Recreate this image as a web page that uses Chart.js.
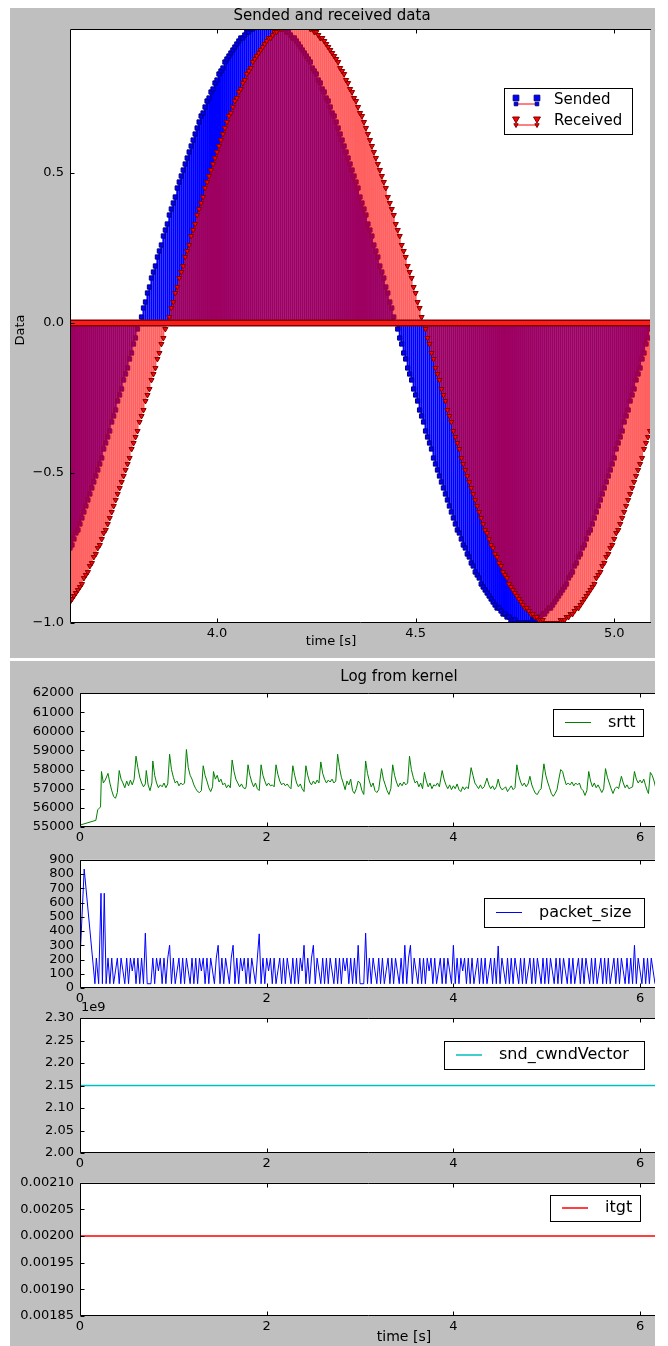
<!DOCTYPE html>
<html>
<head>
<meta charset="utf-8">
<script src="https://cdn.jsdelivr.net/npm/chart.js@4.4.1/dist/chart.umd.min.js"></script>
<style>
  html, body { margin: 0; padding: 0; background: #fff; overflow: hidden; }
  body { width: 668px; height: 1346px; position: relative; }
  .fig { position: absolute; background: #bfbfbf; }
  canvas { position: absolute; }
</style>
</head>
<body>
<div class="fig" style="left:10px;top:8px;width:645px;height:650px"></div>
<div class="fig" style="left:10px;top:661px;width:645px;height:685px"></div>
<canvas id="dataChart" width="645" height="652" style="left:10px;top:6px"></canvas>
<canvas id="srttChart" width="645" height="188" style="left:10px;top:661px"></canvas>
<canvas id="packetChart" width="645" height="164" style="left:10px;top:846px"></canvas>
<canvas id="cwndChart" width="645" height="179" style="left:10px;top:996px"></canvas>
<canvas id="itgtChart" width="645" height="177" style="left:10px;top:1169px"></canvas>
<script>
Chart.defaults.font.family = "'DejaVu Sans', sans-serif";
Chart.defaults.font.size = 13;
Chart.defaults.color = '#000';

// ---- top panel: sended / received stems, one sample every 5 ms ----
const sampleStart = 3.63;
const sampleStep = 0.005;
const sended = [
  -0.75,-0.74,-0.72,-0.70,-0.69,-0.67,-0.65,-0.63,-0.61,-0.59,-0.57,-0.55,-0.53,-0.51,-0.49,-0.47,-0.45,-0.42,-0.40,-0.38,
  -0.36,-0.33,-0.31,-0.29,-0.26,-0.24,-0.22,-0.19,-0.17,-0.15,-0.12,-0.10,-0.07,-0.05,-0.02,0.00,0.02,0.05,0.07,0.10,
  0.12,0.15,0.17,0.19,0.22,0.24,0.26,0.29,0.31,0.33,0.36,0.38,0.40,0.42,0.45,0.47,0.49,0.51,0.53,0.55,
  0.57,0.59,0.61,0.63,0.65,0.67,0.69,0.70,0.72,0.74,0.75,0.77,0.78,0.80,0.81,0.83,0.84,0.85,0.87,0.88,
  0.89,0.90,0.91,0.92,0.93,0.94,0.95,0.95,0.96,0.97,0.97,0.98,0.98,0.99,0.99,0.99,1.00,1.00,1.00,1.00,
  1.00,1.00,1.00,1.00,0.99,0.99,0.99,0.98,0.98,0.97,0.97,0.96,0.95,0.95,0.94,0.93,0.92,0.91,0.90,0.89,
  0.88,0.87,0.85,0.84,0.83,0.81,0.80,0.78,0.77,0.75,0.74,0.72,0.70,0.69,0.67,0.65,0.63,0.61,0.59,0.57,
  0.55,0.53,0.51,0.49,0.47,0.45,0.42,0.40,0.38,0.36,0.33,0.31,0.29,0.26,0.24,0.22,0.19,0.17,0.15,0.12,
  0.10,0.07,0.05,0.02,0.00,-0.02,-0.05,-0.07,-0.10,-0.12,-0.15,-0.17,-0.19,-0.22,-0.24,-0.26,-0.29,-0.31,-0.33,-0.36,
  -0.38,-0.40,-0.42,-0.45,-0.47,-0.49,-0.51,-0.53,-0.55,-0.57,-0.59,-0.61,-0.63,-0.65,-0.67,-0.69,-0.70,-0.72,-0.74,-0.75,
  -0.77,-0.78,-0.80,-0.81,-0.83,-0.84,-0.85,-0.87,-0.88,-0.89,-0.90,-0.91,-0.92,-0.93,-0.94,-0.95,-0.95,-0.96,-0.97,-0.97,
  -0.98,-0.98,-0.99,-0.99,-0.99,-1.00,-1.00,-1.00,-1.00,-1.00,-1.00,-1.00,-1.00,-0.99,-0.99,-0.99,-0.98,-0.98,-0.97,-0.97,
  -0.96,-0.95,-0.95,-0.94,-0.93,-0.92,-0.91,-0.90,-0.89,-0.88,-0.87,-0.85,-0.84,-0.83,-0.81,-0.80,-0.78,-0.77,-0.75,-0.74,
  -0.72,-0.70,-0.69,-0.67,-0.65,-0.63,-0.61,-0.59,-0.57,-0.55,-0.53,-0.51,-0.49,-0.47,-0.45,-0.42,-0.40,-0.38,-0.36,-0.33,
  -0.31,-0.29,-0.26,-0.24,-0.22,-0.19,-0.17,-0.15,-0.12,-0.10,-0.07,-0.05,-0.02
];
const received = [
  -0.93,-0.92,-0.91,-0.90,-0.89,-0.88,-0.87,-0.85,-0.84,-0.83,-0.81,-0.80,-0.78,-0.77,
  -0.75,-0.74,-0.72,-0.70,-0.69,-0.67,-0.65,-0.63,-0.61,-0.59,-0.57,-0.55,-0.53,-0.51,-0.49,-0.47,-0.45,-0.42,-0.40,-0.38,
  -0.36,-0.33,-0.31,-0.29,-0.26,-0.24,-0.22,-0.19,-0.17,-0.15,-0.12,-0.10,-0.07,-0.05,-0.02,0.00,0.02,0.05,0.07,0.10,
  0.12,0.15,0.17,0.19,0.22,0.24,0.26,0.29,0.31,0.33,0.36,0.38,0.40,0.42,0.45,0.47,0.49,0.51,0.53,0.55,
  0.57,0.59,0.61,0.63,0.65,0.67,0.69,0.70,0.72,0.74,0.75,0.77,0.78,0.80,0.81,0.83,0.84,0.85,0.87,0.88,
  0.89,0.90,0.91,0.92,0.93,0.94,0.95,0.95,0.96,0.97,0.97,0.98,0.98,0.99,0.99,0.99,1.00,1.00,1.00,1.00,
  1.00,1.00,1.00,1.00,0.99,0.99,0.99,0.98,0.98,0.97,0.97,0.96,0.95,0.95,0.94,0.93,0.92,0.91,0.90,0.89,
  0.88,0.87,0.85,0.84,0.83,0.81,0.80,0.78,0.77,0.75,0.74,0.72,0.70,0.69,0.67,0.65,0.63,0.61,0.59,0.57,
  0.55,0.53,0.51,0.49,0.47,0.45,0.42,0.40,0.38,0.36,0.33,0.31,0.29,0.26,0.24,0.22,0.19,0.17,0.15,0.12,
  0.10,0.07,0.05,0.02,0.00,-0.02,-0.05,-0.07,-0.10,-0.12,-0.15,-0.17,-0.19,-0.22,-0.24,-0.26,-0.29,-0.31,-0.33,-0.36,
  -0.38,-0.40,-0.42,-0.45,-0.47,-0.49,-0.51,-0.53,-0.55,-0.57,-0.59,-0.61,-0.63,-0.65,-0.67,-0.69,-0.70,-0.72,-0.74,-0.75,
  -0.77,-0.78,-0.80,-0.81,-0.83,-0.84,-0.85,-0.87,-0.88,-0.89,-0.90,-0.91,-0.92,-0.93,-0.94,-0.95,-0.95,-0.96,-0.97,-0.97,
  -0.98,-0.98,-0.99,-0.99,-0.99,-1.00,-1.00,-1.00,-1.00,-1.00,-1.00,-1.00,-1.00,-0.99,-0.99,-0.99,-0.98,-0.98,-0.97,-0.97,
  -0.96,-0.95,-0.95,-0.94,-0.93,-0.92,-0.91,-0.90,-0.89,-0.88,-0.87,-0.85,-0.84,-0.83,-0.81,-0.80,-0.78,-0.77,-0.75,-0.74,
  -0.72,-0.70,-0.69,-0.67,-0.65,-0.63,-0.61,-0.59,-0.57,-0.55,-0.53,-0.51,-0.49,-0.47,-0.45,-0.42,-0.40,-0.38,-0.36
];
const dataXMin = 3.63, dataXMax = 5.09;
const dataYMin = -1.0, dataYMax = 0.98;
const dataXTicks = [4.0, 4.5, 5.0];
const dataYTicks = [-1.0, -0.5, 0.0, 0.5];

// ---- bottom panels: log from kernel ----
// srtt as [time, value]
const srtt = [
  [0.00,55100],[0.17,55350],[0.19,55900],[0.22,56050],[0.23,57900],[0.25,57300],[0.27,57450],[0.30,57800],
  [0.32,57300],[0.34,56900],[0.36,56600],[0.38,56500],[0.40,56800],[0.42,57950],[0.44,57500],[0.46,57300],
  [0.48,57050],[0.50,57400],[0.52,57150],[0.54,57450],[0.56,57200],[0.58,57500],[0.60,58700],[0.62,58100],
  [0.64,57600],[0.66,57300],[0.68,57100],[0.70,57250],[0.71,57950],[0.73,57200],[0.75,56900],[0.77,57300],
  [0.78,58450],[0.80,57700],[0.82,57300],[0.84,57050],[0.86,57200],[0.88,57100],[0.90,57300],[0.92,57050],
  [0.94,57250],[0.96,58800],[0.98,58000],[1.00,57600],[1.02,57300],[1.04,57400],[1.06,57150],[1.08,57300],
  [1.10,57200],[1.12,57300],[1.14,59050],[1.16,58100],[1.18,57700],[1.20,57500],[1.22,57200],[1.24,57000],
  [1.26,56850],[1.28,56800],[1.30,56900],[1.32,58200],[1.34,57700],[1.36,57400],[1.38,57050],[1.40,56850],
  [1.42,57100],[1.43,57900],[1.45,57500],[1.47,57700],[1.49,57350],[1.51,57500],[1.53,57200],[1.55,57300],
  [1.57,57050],[1.59,57200],[1.61,57050],[1.63,58500],[1.65,57900],[1.67,57500],[1.69,57300],[1.71,57100],
  [1.73,57250],[1.75,57050],[1.77,57000],[1.78,57100],[1.80,58250],[1.82,57700],[1.84,57350],[1.86,57100],
  [1.88,57300],[1.90,57000],[1.92,56900],[1.94,58250],[1.96,57700],[1.98,57400],[2.00,57150],[2.02,57300],
  [2.04,57150],[2.06,57200],[2.08,57100],[2.10,58250],[2.12,57750],[2.14,57400],[2.16,57200],[2.18,57300],
  [2.20,57150],[2.22,57250],[2.24,57100],[2.26,57000],[2.28,58200],[2.30,57700],[2.32,57300],[2.34,57100],
  [2.36,57250],[2.38,57000],[2.40,56850],[2.42,58200],[2.44,57700],[2.46,57350],[2.48,57200],[2.50,57400],
  [2.52,57250],[2.54,57450],[2.56,57300],[2.58,58400],[2.60,57800],[2.62,57500],[2.64,57300],[2.66,57450],
  [2.68,57350],[2.70,57500],[2.72,57300],[2.74,57400],[2.76,58800],[2.78,58100],[2.80,57600],[2.82,57300],
  [2.84,56950],[2.86,57400],[2.88,57200],[2.90,57500],[2.92,56900],[2.94,56750],[2.96,57000],[2.98,57400],
  [3.00,57300],[3.02,56900],[3.04,56700],[3.06,58450],[3.08,57800],[3.10,57400],[3.12,57100],[3.14,57300],
  [3.16,56900],[3.18,56800],[3.20,56950],[3.23,58050],[3.25,57500],[3.27,57200],[3.29,56900],[3.31,56700],
  [3.33,57000],[3.35,58250],[3.37,57700],[3.39,57350],[3.41,57100],[3.43,57300],[3.45,57150],[3.47,57350],
  [3.49,57200],[3.51,57300],[3.53,58700],[3.55,58000],[3.57,57600],[3.59,57300],[3.61,57400],[3.63,57100],
  [3.65,57300],[3.67,57000],[3.69,57850],[3.71,57400],[3.73,57100],[3.75,57300],[3.77,57000],[3.79,57200],
  [3.81,57150],[3.83,57300],[3.85,57100],[3.88,57950],[3.90,57500],[3.92,57200],[3.94,57000],[3.96,57200],
  [3.98,56950],[4.00,57150],[4.02,57000],[4.04,57250],[4.06,56950],[4.08,56850],[4.10,57100],[4.12,56950],
  [4.14,57100],[4.16,57000],[4.19,58100],[4.21,57700],[4.23,57300],[4.25,57150],[4.27,57000],[4.29,57200],
  [4.31,57000],[4.33,57100],[4.36,57550],[4.38,57200],[4.40,57000],[4.42,57150],[4.44,56950],[4.46,57100],
  [4.48,57500],[4.50,57100],[4.52,56950],[4.54,57000],[4.56,57100],[4.58,56850],[4.60,57000],[4.62,57150],
  [4.64,56950],[4.66,57050],[4.68,58250],[4.70,57700],[4.72,57350],[4.74,57150],[4.76,57300],[4.78,57100],
  [4.80,57250],[4.82,57650],[4.84,57200],[4.86,56950],[4.88,56750],[4.90,56700],[4.92,56900],[4.94,57000],
  [4.97,58300],[4.99,57700],[5.01,57350],[5.03,57050],[5.05,56750],[5.07,56600],[5.09,56750],[5.11,56950],
  [5.13,57500],[5.15,58000],[5.17,57900],[5.19,57500],[5.21,57200],[5.23,57300],[5.25,57200],[5.27,57350],
  [5.29,57150],[5.31,57300],[5.33,57200],[5.35,57300],[5.37,57000],[5.39,56900],[5.41,56650],[5.43,56900],
  [5.45,57900],[5.47,57400],[5.49,57100],[5.51,57300],[5.53,57050],[5.55,57200],[5.57,57000],[5.59,56800],
  [5.61,57000],[5.63,58050],[5.65,57600],[5.67,57300],[5.69,57000],[5.71,56750],[5.73,57000],[5.75,57100],
  [5.77,57000],[5.80,57650],[5.82,57300],[5.84,57050],[5.86,57200],[5.88,57000],[5.90,57050],[5.92,57100],
  [5.94,57900],[5.96,57500],[5.98,57300],[6.00,57450],[6.02,57300],[6.04,57500],[6.06,57150],[6.08,56850],
  [6.09,56750],[6.11,57850],[6.13,57700],[6.15,57400],[6.17,57000]
];
// packet_size: first burst as [time, value], then one value every 20 ms from 0.30 s
const packetHead = [[0.00,200],[0.045,835],[0.16,30],[0.175,210],[0.20,30],[0.225,665],[0.24,30],[0.26,665],[0.28,30]];
const packetStart = 0.30;
const packetStep = 0.02;
const packetSize = [
  210,30,210,30,120,210,30,210,120,30,210,30,210,120,210,30,210,30,210,30,
  385,30,30,30,210,30,210,120,210,30,210,30,210,300,30,210,30,120,210,30,
  210,30,210,120,30,210,30,210,30,210,120,210,30,210,30,210,120,30,210,300,
  30,210,30,210,120,30,210,300,30,210,30,210,120,210,30,210,30,210,120,30,
  210,380,30,210,30,210,120,210,30,210,30,120,210,30,210,30,210,120,30,210,
  30,210,30,210,120,300,30,210,30,210,300,30,210,120,30,210,30,210,30,210,
  120,30,210,30,210,30,210,120,210,30,210,30,210,30,300,30,30,30,385,30,
  210,30,210,120,30,210,30,210,30,120,210,30,210,30,210,120,30,210,30,300,
  30,210,300,30,210,120,30,210,30,210,30,210,120,210,30,210,30,120,210,30,
  210,30,210,120,30,300,30,210,30,210,120,210,30,210,30,210,30,120,210,30,
  210,30,210,30,120,210,30,210,30,295,30,210,120,30,210,30,210,30,210,120,
  30,210,30,210,30,120,210,30,210,30,210,120,30,210,30,210,30,210,120,30,
  210,30,210,30,210,120,30,210,30,210,30,120,210,30,210,30,210,120,30,210,
  30,210,30,120,210,30,210,30,210,30,120,210,30,210,30,210,120,30,210,30,
  210,30,300,30,210,120,30,210,30,210,30,210,120,30
];
const sndCwnd = [[0.00,2.15e9],[6.20,2.15e9]];
const itgt = [[0.00,0.0020],[6.20,0.0020]];

const kernelXMax = 6.16;
const kernelXTicks = [0, 2, 4, 6];
const srttTicks = [55000, 56000, 57000, 58000, 59000, 60000, 61000, 62000];
const packetTicks = [0, 100, 200, 300, 400, 500, 600, 700, 800, 900];
const cwndTicks = [2.00e9, 2.05e9, 2.10e9, 2.15e9, 2.20e9, 2.25e9, 2.30e9];
const itgtTicks = [0.00185, 0.00190, 0.00195, 0.00200, 0.00205, 0.00210];

const toPoints = pairs => pairs.map(([x, y]) => ({x, y}));
const sendTimes = sended.map((_, i) => +(sampleStart + i * sampleStep).toFixed(3));
const packetPoints = toPoints(packetHead).concat(
  packetSize.map((v, i) => ({x: +(packetStart + i * packetStep).toFixed(2), y: v})));

// white plot area, matplotlib-ish frame with inward ticks, free texts and a boxed legend
function decor(cfg) {
  const font = s => `${s}px 'DejaVu Sans', sans-serif`;
  return {
    id: 'decor',
    beforeDraw(chart) {
      const {ctx, chartArea: a} = chart;
      ctx.save();
      ctx.fillStyle = '#fff';
      ctx.fillRect(a.left, a.top, a.right - a.left, a.bottom - a.top);
      ctx.restore();
    },
    afterDatasetsDraw(chart) {
      const {ctx, chartArea: a, scales} = chart;
      const L = Math.round(a.left) + 0.5, T = Math.round(a.top) + 0.5;
      const B = Math.round(a.bottom) - 0.5, R = a.right + 1;
      ctx.save();
      ctx.strokeStyle = '#000';
      ctx.lineWidth = 1;
      ctx.beginPath();
      ctx.moveTo(R, T); ctx.lineTo(L, T); ctx.lineTo(L, B); ctx.lineTo(R, B);
      scales.x.ticks.forEach(t => {
        const x = Math.round(scales.x.getPixelForValue(t.value)) + 0.5;
        ctx.moveTo(x, B); ctx.lineTo(x, B - 4);
        ctx.moveTo(x, T); ctx.lineTo(x, T + 4);
      });
      scales.y.ticks.forEach(t => {
        const y = Math.round(scales.y.getPixelForValue(t.value)) + 0.5;
        ctx.moveTo(L, y); ctx.lineTo(L + 4, y);
      });
      ctx.stroke();
      ctx.restore();
    },
    afterDraw(chart) {
      const {ctx, chartArea: a} = chart;
      ctx.save();
      ctx.fillStyle = '#000';
      (cfg.texts || []).forEach(t => {
        ctx.save();
        ctx.font = font(t.size);
        ctx.textAlign = t.align || 'center';
        ctx.textBaseline = 'middle';
        ctx.translate(t.x, t.y);
        if (t.rotate) ctx.rotate(t.rotate);
        ctx.fillText(t.text, 0, 0);
        ctx.restore();
      });
      const lg = cfg.legend;
      if (lg) {
        const x0 = Math.round(a.left + lg.left), y0 = Math.round(a.top + lg.top);
        ctx.fillStyle = '#fff';
        ctx.fillRect(x0, y0, lg.width, lg.height);
        ctx.strokeStyle = '#000';
        ctx.lineWidth = 1;
        ctx.strokeRect(x0 + 0.5, y0 + 0.5, lg.width, lg.height);
        lg.items.forEach((it, i) => {
          const y = y0 + lg.rows[i];
          if (it.kind === 'line') {
            ctx.strokeStyle = it.color;
            ctx.lineWidth = it.width || 1;
            ctx.beginPath();
            ctx.moveTo(x0 + 12, y); ctx.lineTo(x0 + 38, y);
            ctx.stroke();
          } else {
            const xs = [x0 + 12, x0 + 33];
            ctx.strokeStyle = '#ff0000';
            ctx.lineWidth = 1;
            ctx.beginPath();
            ctx.moveTo(xs[0], y + 4); ctx.lineTo(xs[1], y + 4);
            ctx.stroke();
            xs.forEach(x => {
              ctx.fillStyle = it.fill; ctx.strokeStyle = it.edge;
              Chart.helpers.drawPoint(ctx, {pointStyle: it.marker, radius: 4, rotation: it.rotation, borderWidth: 1}, x, y - 2);
              Chart.helpers.drawPoint(ctx, {pointStyle: it.marker, radius: 2.5, rotation: it.rotation, borderWidth: 1}, x, y + 4);
            });
          }
          ctx.fillStyle = '#000';
          ctx.font = font(lg.size);
          ctx.textAlign = 'left';
          ctx.textBaseline = 'middle';
          ctx.fillText(it.label, x0 + lg.textX, y);
        });
      }
      ctx.restore();
    }
  };
}

const fixedTicks = list => scale => { scale.ticks = list.map(v => ({value: v})); };
const noGrid = { display: false, drawTicks: false };
const zeroLine = sendTimes.map(t => ({x: t, y: 0}));

// ---- top chart ----
new Chart(document.getElementById('dataChart'), {
  type: 'bar',
  data: {
    datasets: [
      { type: 'line', label: 'baseline', data: zeroLine, borderColor: '#ff1a1a', borderWidth: 4,
        pointRadius: 0, clip: 0, order: 0 },
      { type: 'line', label: 'baseline edge', data: zeroLine, borderColor: '#7a0000', borderWidth: 7,
        pointRadius: 0, clip: 0, order: 1 },
      { type: 'line', label: 'Received', data: received.map((v, i) => ({x: sendTimes[i], y: v})),
        showLine: false, pointStyle: 'triangle', rotation: 180, pointRadius: 3,
        pointBackgroundColor: '#ff0000', pointBorderColor: '#800000', pointBorderWidth: 1,
        clip: 0, order: 2 },
      { label: 'Received stems', data: received.map((v, i) => ({x: sendTimes[i], y: v})),
        backgroundColor: 'rgba(255,0,0,0.62)', borderWidth: 0, barThickness: 2, inflateAmount: 0,
        grouped: false, clip: 0, order: 3 },
      { type: 'line', label: 'Sended', data: sended.map((v, i) => ({x: sendTimes[i], y: v})),
        showLine: false, pointStyle: 'rect', pointRadius: 3,
        pointBackgroundColor: '#0000ff', pointBorderColor: '#000080', pointBorderWidth: 1,
        clip: 0, order: 4 },
      { label: 'Sended stems', data: sended.map((v, i) => ({x: sendTimes[i], y: v})),
        backgroundColor: '#0000ff', borderWidth: 0, barThickness: 2, inflateAmount: 0,
        grouped: false, clip: 0, order: 5 }
    ]
  },
  options: {
    responsive: false,
    animation: false,
    layout: { padding: { top: 0, right: 1, left: 0, bottom: 0 } },
    plugins: {
      legend: { display: false },
      tooltip: { enabled: false },
      title: { display: true, text: 'Sended and received data', color: '#000',
               font: { size: 15, weight: 'normal' }, padding: { top: 1, bottom: 4 } }
    },
    scales: {
      x: { type: 'linear', min: dataXMin, max: dataXMax, offset: false,
           grid: noGrid, border: { display: false },
           afterBuildTicks: fixedTicks(dataXTicks),
           afterFit: s => { s.height = 35; },
           ticks: { padding: 3, autoSkip: false, maxRotation: 0, callback: v => v.toFixed(1) } },
      y: { min: dataYMin, max: dataYMax,
           grid: noGrid, border: { display: false },
           afterBuildTicks: fixedTicks(dataYTicks),
           afterFit: s => { s.width = 60; },
           ticks: { padding: 6, autoSkip: false, callback: v => v.toFixed(1).replace('-', '\u2212') } }
    }
  },
  plugins: [decor({
    texts: [
      { text: 'Data', x: 11, y: 324, size: 13, rotate: -Math.PI / 2 },
      { text: 'time [s]', x: 321, y: 636, size: 13 }
    ],
    legend: { left: 434, top: 59, width: 128, height: 46, rows: [12, 33], textX: 50, size: 15,
      items: [
        { label: 'Sended', kind: 'stem', marker: 'rect', rotation: 0, fill: '#0000ff', edge: '#000080' },
        { label: 'Received', kind: 'stem', marker: 'triangle', rotation: 180, fill: '#ff0000', edge: '#800000' }
      ] }
  })]
});

// ---- kernel log panels ----
function kernelChart(id, cfg) {
  return new Chart(document.getElementById(id), {
    type: 'line',
    data: { datasets: [{ label: cfg.label, data: cfg.points, borderColor: cfg.color,
                         borderWidth: cfg.width, pointRadius: 0, tension: 0, clip: 0 }] },
    options: {
      responsive: false,
      animation: false,
      layout: { padding: { top: cfg.padTop, right: 0, left: 0, bottom: 0 } },
      plugins: { legend: { display: false }, tooltip: { enabled: false } },
      scales: {
        x: { type: 'linear', min: 0, max: kernelXMax,
             grid: noGrid, border: { display: false },
             afterBuildTicks: fixedTicks(kernelXTicks),
             afterFit: s => { s.height = cfg.axisHeight; },
             ticks: { padding: 3, autoSkip: false, maxRotation: 0, callback: v => String(v) } },
        y: { min: cfg.ticks[0], max: cfg.ticks[cfg.ticks.length - 1],
             grid: noGrid, border: { display: false },
             afterBuildTicks: fixedTicks(cfg.ticks),
             afterFit: s => { s.width = 70; },
             ticks: { padding: 6, autoSkip: false, callback: cfg.fmt } }
      }
    },
    plugins: [decor({
      texts: cfg.texts || [],
      legend: { left: cfg.legend.left, top: cfg.legend.top, width: cfg.legend.width,
                height: cfg.legend.height, rows: [cfg.legend.height / 2], textX: 55, size: 16,
                items: [{ label: cfg.label, kind: 'line', color: cfg.color, width: cfg.width }] }
    })]
  });
}

kernelChart('srttChart', {
  label: 'srtt', points: toPoints(srtt), color: '#008000', width: 1,
  ticks: srttTicks, fmt: v => String(v), padTop: 32, axisHeight: 22,
  texts: [{ text: 'Log from kernel', x: 389, y: 16, size: 15 }],
  legend: { left: 473, top: 16, width: 90, height: 27 }
});

kernelChart('packetChart', {
  label: 'packet_size', points: packetPoints, color: '#0000ff', width: 1,
  ticks: packetTicks, fmt: v => String(v), padTop: 10, axisHeight: 22,
  legend: { left: 404, top: 38, width: 160, height: 29 }
});

kernelChart('cwndChart', {
  label: 'snd_cwndVector', points: toPoints(sndCwnd), color: '#00bfbf', width: 1.5,
  ticks: cwndTicks, fmt: v => (v / 1e9).toFixed(2), padTop: 22, axisHeight: 22,
  texts: [{ text: '1e9', x: 71, y: 12, size: 13, align: 'left' }],
  legend: { left: 364, top: 23, width: 200, height: 28 }
});

kernelChart('itgtChart', {
  label: 'itgt', points: toPoints(itgt), color: '#ff0000', width: 1.5,
  ticks: itgtTicks, fmt: v => v.toFixed(5), padTop: 12, axisHeight: 30,
  texts: [{ text: 'time [s]', x: 394, y: 168, size: 14 }],
  legend: { left: 470, top: 12, width: 90, height: 26 }
});
</script>
</body>
</html>
